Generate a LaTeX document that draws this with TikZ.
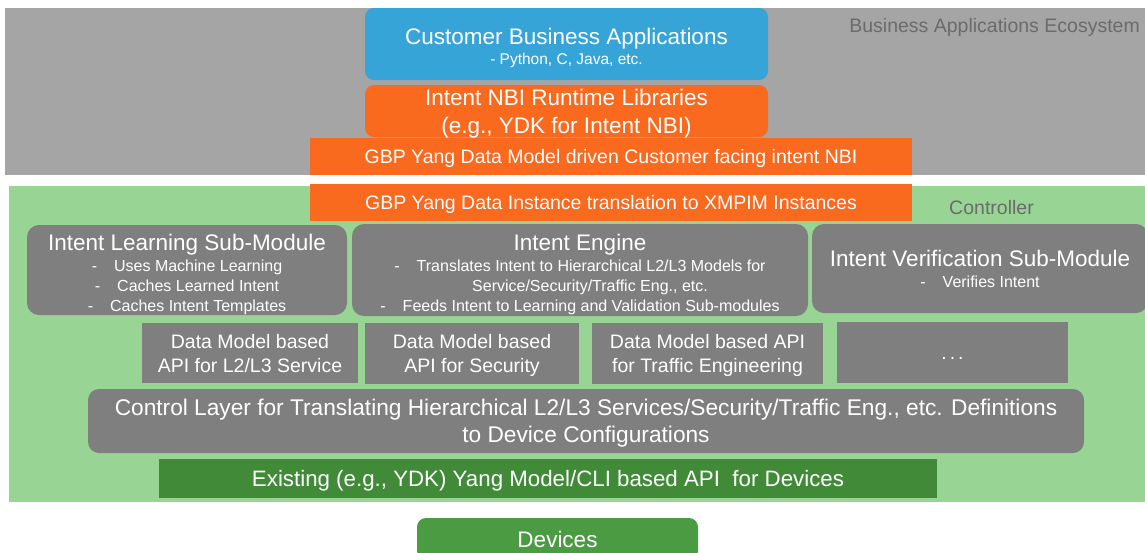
\documentclass[tikz,border=0pt]{standalone}
\usepackage{fontspec}
\setmainfont{Liberation Sans}

\definecolor{ecogray}{HTML}{A5A5A5}
\definecolor{ctrlgreen}{HTML}{98D494}
\definecolor{appblue}{HTML}{37A4D8}
\definecolor{nbiorange}{HTML}{F9691E}
\definecolor{modgray}{HTML}{7F7F7F}
\definecolor{cligreen}{HTML}{408A38}
\definecolor{devgreen}{HTML}{4A9B42}
\definecolor{labelgray}{HTML}{6B6B6B}

\newcommand{\boxtitle}[1]{{\fontsize{22.5}{24}\selectfont\rule{0pt}{21.5pt}#1}}
\newcommand{\itemdash}{-\hspace{17pt}}

\begin{document}
\begin{tikzpicture}[
  x=1pt, y=-1pt,
  font=\fontsize{19.5}{24}\selectfont,
  panel/.style={fill=#1, inner sep=0pt},
  layerbox/.style={fill=#1, inner sep=0pt, align=center, text=white, text depth=0pt},
  roundbox/.style={layerbox=#1, rounded corners=9pt},
  modbox/.style={layerbox=modgray, rounded corners=12pt, font=\fontsize{16}{20}\selectfont},
  apibox/.style={layerbox=modgray, font=\fontsize{19.5}{24}\selectfont},
  zonelabel/.style={text=labelgray, inner sep=0pt, font=\fontsize{19.5}{24}\selectfont}
]
\useasboundingbox (0,0) rectangle (1145,552);
\node[panel=ecogray, minimum width=1145pt, minimum height=167pt] (eco) at (577.5,91.5) {};
\node[zonelabel, anchor=base east] (econame) at (1140,32) {Business Applications Ecosystem};
\node[panel=ctrlgreen, minimum width=1141pt, minimum height=316pt] (ctrl) at (579.5,344) {};
\node[zonelabel, anchor=base] (ctrlname) at (991.5,214) {Controller};

\node[roundbox=appblue, minimum width=403pt, minimum height=72pt, font=\fontsize{15.5}{20}\selectfont] (apps) at (566.5,44) {\boxtitle{Customer Business Applications}\\- Python, C, Java, etc.};
\node[roundbox=nbiorange, minimum width=403pt, minimum height=52pt, font=\fontsize{22.5}{28}\selectfont] (nbilib) at (566.5,111) {Intent NBI Runtime Libraries\\(e.g., YDK for Intent NBI)};
\node[layerbox=nbiorange, minimum width=602pt, minimum height=37pt] (nbi) at (611,156.5) {GBP Yang Data Model driven Customer facing intent NBI};
\node[layerbox=nbiorange, minimum width=602pt, minimum height=37pt] (xlate) at (611,202.5) {GBP Yang Data Instance translation to XMPIM Instances};

\node[modbox, minimum width=320pt, minimum height=90pt] (learn) at (187,270) {\boxtitle{Intent Learning Sub-Module}\\[1pt]\itemdash Uses Machine Learning\\\itemdash Caches Learned Intent\\\itemdash Caches Intent Templates};
\node[modbox, minimum width=456pt, minimum height=92pt] (engine) at (580,270) {\boxtitle{Intent Engine}\\[1pt]\itemdash Translates Intent to Hierarchical L2/L3 Models for\\\hspace*{20pt}Service/Security/Traffic Eng., etc.\\\itemdash Feeds Intent to Learning and Validation Sub-modules};
\node[modbox, minimum width=336pt, minimum height=89pt] (verify) at (980,268.5) {{\fontsize{22.5}{24}\selectfont Intent Verification Sub-Module}\\[1pt]\itemdash Verifies Intent};

\node[apibox, minimum width=216pt, minimum height=60pt] (l2l3api) at (250,353) {Data Model based\\API for L2/L3 Service};
\node[apibox, minimum width=214pt, minimum height=61pt] (secapi) at (472,353.5) {Data Model based\\API for Security};
\node[apibox, minimum width=231pt, minimum height=61pt] (teapi) at (707.5,353.5) {Data Model based API\\for Traffic Engineering};
\node[apibox, minimum width=231pt, minimum height=61pt] (moreapi) at (952.5,352.5) {\vphantom{Ap}.\kern3pt.\kern3pt.};

\node[layerbox=modgray, rounded corners=11pt, minimum width=996pt, minimum height=64pt, font=\fontsize{22.7}{27}\selectfont] (ctl) at (586,421) {Control Layer for Translating Hierarchical L2/L3 Services/Security/Traffic Eng., etc. Definitions\\to Device Configurations};
\node[layerbox=cligreen, minimum width=778pt, minimum height=39pt, font=\fontsize{22.3}{27}\selectfont] (cli) at (548,478.5) {Existing (e.g., YDK) Yang Model/CLI based API\ \ for Devices};
\node[roundbox=devgreen, minimum width=281pt, minimum height=42pt, font=\fontsize{22.5}{27}\selectfont] (dev) at (557.5,539) {Devices};
\end{tikzpicture}
\end{document}
